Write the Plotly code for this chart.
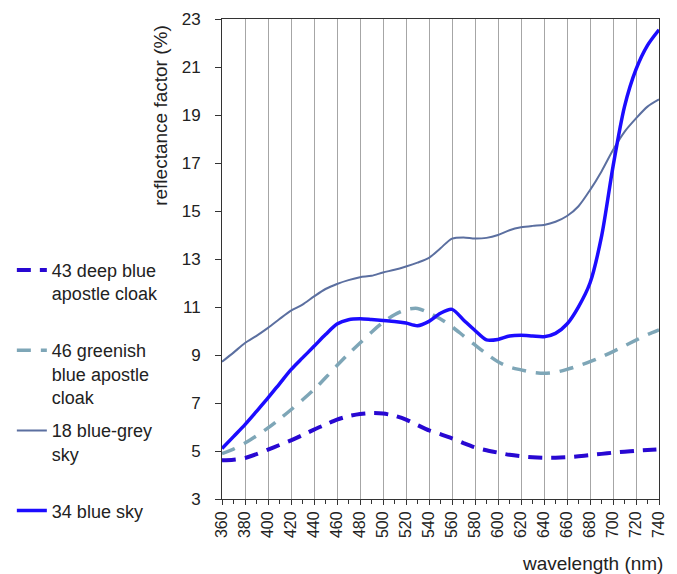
import plotly.graph_objects as go

# Wavelength samples (nm)
wavelength = list(range(360, 741, 10))

# Reflectance factor (%) for each sample
deep_blue_cloak_43 = [4.61, 4.64, 4.71, 4.87, 5.06, 5.25, 5.44, 5.66, 5.89, 6.10,
                      6.31, 6.45, 6.54, 6.58, 6.56, 6.47, 6.31, 6.08, 5.86, 5.70,
                      5.53, 5.33, 5.15, 5.03, 4.93, 4.84, 4.78, 4.74, 4.72, 4.72,
                      4.74, 4.78, 4.83, 4.88, 4.93, 4.97, 5.01, 5.04, 5.07]
greenish_cloak_46 = [4.89, 5.08, 5.33, 5.63, 5.96, 6.33, 6.72, 7.13, 7.56, 8.05,
                     8.56, 9.05, 9.50, 9.95, 10.36, 10.68, 10.89, 10.94, 10.75, 10.50,
                     10.18, 9.80, 9.42, 9.05, 8.72, 8.50, 8.38, 8.28, 8.24, 8.28,
                     8.40, 8.55, 8.72, 8.92, 9.14, 9.38, 9.62, 9.85, 10.05]
blue_grey_sky_18 = [8.72, 9.10, 9.50, 9.80, 10.13, 10.50, 10.85, 11.10, 11.44, 11.75,
                    11.96, 12.12, 12.24, 12.30, 12.44, 12.55, 12.69, 12.85, 13.05, 13.45,
                    13.85, 13.90, 13.85, 13.88, 14.00, 14.20, 14.32, 14.38, 14.42, 14.55,
                    14.79, 15.20, 15.87, 16.65, 17.54, 18.30, 18.86, 19.35, 19.65]
blue_sky_34 = [5.10, 5.60, 6.10, 6.65, 7.21, 7.80, 8.39, 8.88, 9.36, 9.85,
               10.29, 10.47, 10.51, 10.48, 10.44, 10.40, 10.33, 10.22, 10.40, 10.74,
               10.90, 10.46, 10.02, 9.63, 9.65, 9.79, 9.82, 9.79, 9.76, 9.90,
               10.29, 11.01, 12.00, 13.93, 16.85, 19.35, 20.90, 21.90, 22.55]

# Legend labels; the first three are padded to three lines so entries sit evenly apart
labels = ["43 deep blue<br>apostle cloak<br> ",
          "46 greenish<br>blue apostle<br>cloak",
          "18 blue-grey<br>sky<br> ",
          "34 blue sky"]

x_ticks = list(range(360, 741, 20))
y_ticks = list(range(3, 24, 2))

FONT = "Liberation Sans, Arial, sans-serif"

fig = go.Figure()

series = [
    (deep_blue_cloak_43, dict(color="#2808d2", width=4, dash="14px,9px")),
    (greenish_cloak_46, dict(color="#7ea6b7", width=3.5, dash="14px,10px")),
    (blue_grey_sky_18, dict(color="#5b6fa0", width=2)),
    (blue_sky_34, dict(color="#1c0cff", width=3.5)),
]
for i, ((vals, line), name) in enumerate(zip(series, labels)):
    fig.add_trace(go.Scatter(
        x=wavelength, y=vals, name=name, mode="lines",
        line=dict(shape="spline", smoothing=0.8, **line),
        legendgroup=f"g{i}",
    ))

fig.update_layout(
    width=677, height=574,
    margin=dict(l=222, r=10, t=19, b=75),
    paper_bgcolor="white", plot_bgcolor="white",
    font=dict(family=FONT, size=16, color="#222222"),
    showlegend=True,
    legend=dict(
        x=-0.4809, xanchor="left", y=0.515, yanchor="top",
        font=dict(family=FONT, size=18, color="#222222"),
        valign="top", tracegroupgap=7, bgcolor="rgba(0,0,0,0)",
    ),
    xaxis=dict(
        range=[360, 740], tickvals=x_ticks, tickangle=-90,
        showgrid=True, gridcolor="#a6a6a6", gridwidth=1,
        zeroline=False, showline=True, linecolor="#333333", linewidth=1,
        mirror=True, ticks="outside", ticklen=5, tickcolor="#333333",
        minor=dict(dtick=10, tick0=360, ticks="outside", ticklen=4,
                   tickcolor="#333333", showgrid=False),
        tickfont=dict(size=16),
    ),
    yaxis=dict(
        range=[3, 23], tickvals=y_ticks,
        showgrid=False, zeroline=False, showline=True,
        linecolor="#333333", linewidth=1, mirror=True,
        ticks="outside", ticklen=6, tickcolor="#333333",
        ticklabelstandoff=11, tickfont=dict(size=17),
    ),
    annotations=[
        dict(text="reflectance factor (%)", textangle=-90,
             xref="paper", yref="paper", x=-0.14, y=0.80,
             xanchor="center", yanchor="middle", showarrow=False,
             font=dict(family=FONT, size=19, color="#222222")),
        dict(text="wavelength (nm)",
             xref="paper", yref="paper", x=1.0135, y=-0.135,
             xanchor="right", yanchor="middle", showarrow=False,
             font=dict(family=FONT, size=19, color="#222222")),
    ],
)

fig.write_html("out.html")
